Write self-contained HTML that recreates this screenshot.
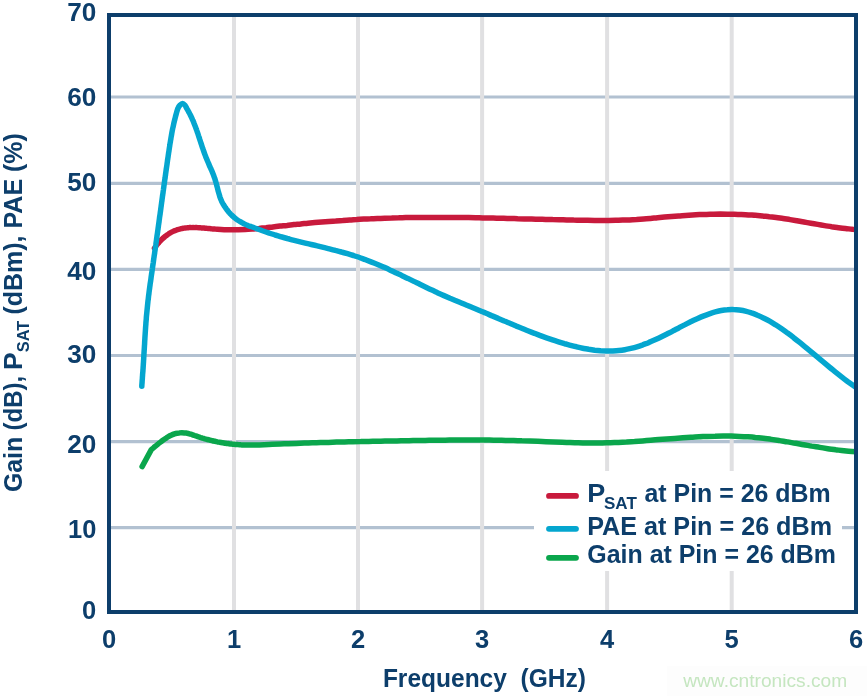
<!DOCTYPE html>
<html lang="en"><head><meta charset="utf-8"><title>Gain, PSAT, PAE vs Frequency</title>
<style>html,body{margin:0;padding:0;background:#fff}svg{display:block}</style></head>
<body>
<svg width="867" height="696" viewBox="0 0 867 696">
<rect width="867" height="696" fill="#fff"/>
<rect x="667" y="666" width="200" height="31" fill="#fdfdfd"/>
<line x1="109" x2="856" y1="97.0" y2="97.0" stroke="#b2c1d1" stroke-width="3.2"/>
<line x1="109" x2="856" y1="183.3" y2="183.3" stroke="#b2c1d1" stroke-width="3.2"/>
<line x1="109" x2="856" y1="269.4" y2="269.4" stroke="#b2c1d1" stroke-width="3.2"/>
<line x1="109" x2="856" y1="355.5" y2="355.5" stroke="#b2c1d1" stroke-width="3.2"/>
<line x1="109" x2="856" y1="441.6" y2="441.6" stroke="#b2c1d1" stroke-width="3.2"/>
<line x1="109" x2="856" y1="527.7" y2="527.7" stroke="#b2c1d1" stroke-width="3.2"/>
<line x1="234.0" x2="234.0" y1="15" y2="612" stroke="#e0e0e2" stroke-width="4"/>
<line x1="358.0" x2="358.0" y1="15" y2="612" stroke="#e0e0e2" stroke-width="4"/>
<line x1="482.1" x2="482.1" y1="15" y2="612" stroke="#e0e0e2" stroke-width="4"/>
<line x1="607.1" x2="607.1" y1="15" y2="612" stroke="#e0e0e2" stroke-width="4"/>
<line x1="731.7" x2="731.7" y1="15" y2="612" stroke="#e0e0e2" stroke-width="4"/>
<rect x="534" y="471" width="308" height="100" fill="#fff"/>
<clipPath id="c"><rect x="109" y="15" width="747" height="597"/></clipPath>
<g fill="none" stroke-width="5.5" stroke-linejoin="round" clip-path="url(#c)">
<path d="M154.5 248.2C154.7 248.0 155.3 247.1 155.7 246.5C156.1 246.0 156.5 245.4 156.9 244.9C157.3 244.4 157.8 243.8 158.2 243.3C158.6 242.8 159.1 242.3 159.5 241.8C160.0 241.3 160.5 240.8 160.9 240.3C161.4 239.8 161.9 239.3 162.4 238.8C162.9 238.4 163.4 237.9 163.9 237.5C164.4 237.1 164.9 236.6 165.4 236.2C166.0 235.8 166.5 235.4 167.0 235.0C167.6 234.6 168.1 234.2 168.7 233.9C169.2 233.5 169.8 233.2 170.4 232.8C170.9 232.5 171.5 232.2 172.1 231.9C172.7 231.6 173.3 231.3 173.9 231.0C174.5 230.8 175.1 230.5 175.7 230.3C176.3 230.1 176.9 229.8 177.5 229.6C178.1 229.4 178.7 229.3 179.4 229.1C180.0 228.9 180.6 228.8 181.3 228.6C181.9 228.5 182.6 228.4 183.2 228.3C183.9 228.2 184.5 228.1 185.2 228.0C185.8 227.9 186.5 227.8 187.1 227.8C187.8 227.7 188.5 227.7 189.1 227.6C189.8 227.6 190.4 227.6 191.1 227.6C191.8 227.5 192.5 227.5 193.1 227.5C193.8 227.5 194.5 227.5 195.1 227.6C195.8 227.6 196.5 227.6 197.1 227.6C197.8 227.7 198.5 227.7 199.1 227.7C199.8 227.8 200.5 227.8 201.1 227.9C201.8 227.9 202.5 228.0 203.2 228.0C203.8 228.1 204.5 228.1 205.2 228.2C205.8 228.3 206.5 228.3 207.2 228.4C207.8 228.5 208.5 228.5 209.2 228.6C209.8 228.6 210.5 228.7 211.2 228.8C211.8 228.8 212.5 228.9 213.2 229.0C213.9 229.0 214.5 229.1 215.2 229.1C215.9 229.2 215.7 229.2 217.2 229.3C218.7 229.4 221.9 229.6 224.2 229.7C226.5 229.8 228.9 229.8 231.2 229.8C233.5 229.8 235.9 229.8 238.2 229.7C240.5 229.6 242.8 229.5 245.2 229.4C247.5 229.3 249.8 229.1 252.1 228.9C254.5 228.8 256.8 228.6 259.1 228.4C261.4 228.1 263.7 227.9 266.1 227.7C268.4 227.4 270.7 227.2 273.0 226.9C275.3 226.7 277.7 226.4 280.0 226.1C282.3 225.9 284.6 225.6 287.0 225.4C289.3 225.1 291.6 224.9 293.9 224.6C296.2 224.4 298.6 224.1 300.9 223.9C303.2 223.7 305.5 223.4 307.9 223.2C310.2 223.0 312.5 222.8 314.8 222.6C317.2 222.4 319.5 222.2 321.8 222.0C324.1 221.8 326.5 221.6 328.8 221.4C331.1 221.2 333.4 221.0 335.8 220.9C338.1 220.7 340.4 220.5 342.8 220.4C345.1 220.2 347.4 220.0 349.7 219.9C352.1 219.8 354.4 219.6 356.7 219.5C359.1 219.3 361.4 219.2 363.7 219.1C366.0 219.0 368.4 218.9 370.7 218.8C373.0 218.6 375.4 218.5 377.7 218.4C380.0 218.4 382.4 218.3 384.7 218.2C387.0 218.1 389.4 218.0 391.7 218.0C394.0 217.9 396.3 217.8 398.7 217.8C401.0 217.7 403.3 217.7 405.7 217.6C408.0 217.6 410.3 217.5 412.7 217.5C415.0 217.5 417.3 217.4 419.7 217.4C422.0 217.4 424.3 217.4 426.7 217.4C429.0 217.4 431.3 217.4 433.7 217.4C436.0 217.4 438.3 217.4 440.7 217.4C443.0 217.4 445.3 217.4 447.7 217.4C450.0 217.4 452.3 217.4 454.7 217.4C457.0 217.5 459.3 217.5 461.7 217.5C464.0 217.6 466.3 217.6 468.7 217.6C471.0 217.7 473.3 217.7 475.7 217.7C478.0 217.8 480.3 217.8 482.7 217.9C485.0 217.9 487.3 218.0 489.7 218.0C492.0 218.1 494.3 218.1 496.7 218.2C499.0 218.2 501.3 218.3 503.7 218.3C506.0 218.4 508.3 218.4 510.7 218.5C513.0 218.6 515.3 218.6 517.7 218.7C520.0 218.7 522.3 218.8 524.7 218.9C527.0 218.9 529.3 219.0 531.7 219.0C534.0 219.1 536.3 219.2 538.7 219.2C541.0 219.3 543.3 219.3 545.7 219.4C548.0 219.5 550.3 219.5 552.7 219.6C555.0 219.6 557.3 219.7 559.7 219.8C562.0 219.8 564.3 219.9 566.7 219.9C569.0 220.0 571.3 220.0 573.7 220.1C576.0 220.1 578.3 220.2 580.7 220.2C583.0 220.3 585.3 220.3 587.7 220.3C590.0 220.4 592.3 220.4 594.7 220.4C597.0 220.4 599.3 220.5 601.7 220.5C604.0 220.5 606.3 220.5 608.7 220.4C611.0 220.4 613.3 220.4 615.6 220.3C618.0 220.3 620.3 220.2 622.6 220.1C625.0 220.1 627.3 220.0 629.6 219.9C632.0 219.7 634.3 219.6 636.6 219.5C638.9 219.3 641.3 219.1 643.6 218.9C645.9 218.8 648.2 218.6 650.6 218.4C652.9 218.2 655.2 217.9 657.5 217.7C659.9 217.5 662.2 217.3 664.5 217.1C666.8 216.9 669.2 216.7 671.5 216.5C673.8 216.3 676.2 216.1 678.5 215.9C680.8 215.7 683.1 215.6 685.5 215.4C687.8 215.3 690.1 215.1 692.5 215.0C694.8 214.9 697.1 214.7 699.5 214.6C701.8 214.5 704.1 214.5 706.5 214.4C708.8 214.3 711.1 214.3 713.5 214.2C715.8 214.2 718.1 214.2 720.5 214.1C722.8 214.1 725.1 214.1 727.5 214.2C729.8 214.2 732.1 214.2 734.4 214.3C736.8 214.4 739.1 214.4 741.4 214.5C743.8 214.6 746.1 214.7 748.4 214.9C750.7 215.0 753.1 215.2 755.4 215.3C757.7 215.5 760.0 215.7 762.3 215.9C764.7 216.2 767.0 216.4 769.3 216.7C771.6 216.9 773.9 217.2 776.2 217.5C778.6 217.8 780.9 218.2 783.2 218.5C785.5 218.9 787.8 219.2 790.1 219.6C792.4 220.0 794.7 220.4 797.0 220.8C799.3 221.2 801.6 221.6 803.9 222.0C806.2 222.4 808.5 222.8 810.8 223.2C813.1 223.6 815.4 224.0 817.7 224.4C820.0 224.8 822.3 225.2 824.6 225.6C827.0 226.0 829.3 226.3 831.6 226.7C833.9 227.0 836.2 227.4 838.5 227.7C840.8 228.0 843.1 228.3 845.4 228.5C847.8 228.8 850.1 229.0 852.4 229.3C854.7 229.5 858.1 229.7 859.4 229.8C860.6 229.9 859.9 229.8 860.0 229.8" stroke="#c81a3c" stroke-linecap="round"/>
<path d="M142.1 466.6L151.3 449.6C151.7 449.2 153.0 448.2 153.8 447.5C154.7 446.8 155.5 446.1 156.4 445.4C157.2 444.7 158.1 444.0 158.9 443.3C159.8 442.7 160.6 442.0 161.5 441.4C162.3 440.7 163.2 440.1 164.0 439.5C164.9 438.9 165.7 438.3 166.6 437.8C167.4 437.2 168.3 436.7 169.1 436.2C170.0 435.8 170.8 435.3 171.7 434.9C172.5 434.6 173.4 434.2 174.2 434.0C175.1 433.7 175.9 433.4 176.8 433.3C177.6 433.1 178.5 432.9 179.3 432.9C180.2 432.8 181.0 432.7 181.9 432.7C182.7 432.7 183.6 432.8 184.4 432.9C185.3 432.9 186.1 433.1 187.0 433.2C187.8 433.4 188.7 433.6 189.5 433.8C190.4 434.1 191.2 434.3 192.1 434.6C192.9 434.9 193.8 435.2 194.6 435.5C195.5 435.8 196.3 436.1 197.2 436.4C198.0 436.7 198.8 436.9 199.7 437.2C200.5 437.5 201.4 437.8 202.2 438.0C203.1 438.3 203.9 438.5 204.8 438.8C205.6 439.0 206.5 439.3 207.3 439.5C208.2 439.7 209.0 439.9 209.9 440.1C210.7 440.4 211.6 440.6 212.4 440.8C213.3 441.0 214.1 441.1 215.0 441.3C215.8 441.5 216.7 441.7 217.5 441.9C218.4 442.0 219.2 442.2 220.1 442.3C220.9 442.5 221.8 442.6 222.6 442.8C223.5 442.9 224.3 443.1 225.2 443.2C226.0 443.3 226.9 443.4 227.7 443.6C228.6 443.7 229.4 443.8 230.3 443.9C231.1 444.0 232.0 444.1 232.8 444.2C233.7 444.3 234.5 444.3 235.4 444.4C236.2 444.5 237.1 444.6 237.9 444.6C238.8 444.7 239.6 444.8 240.5 444.8C241.3 444.9 241.7 445.0 243.0 445.0C244.3 445.0 245.8 445.0 248.0 445.0C250.2 444.9 253.4 445.0 256.1 444.9C258.7 444.9 261.4 444.8 264.1 444.7C266.8 444.6 269.5 444.5 272.2 444.3C274.8 444.2 277.5 444.1 280.2 444.0C282.9 443.9 285.6 443.8 288.3 443.7C290.9 443.6 293.6 443.5 296.3 443.4C299.0 443.3 301.7 443.2 304.4 443.1C307.1 443.0 309.7 442.9 312.4 442.8C315.1 442.7 317.8 442.7 320.5 442.6C323.2 442.5 325.8 442.4 328.5 442.4C331.2 442.3 333.9 442.2 336.6 442.1C339.3 442.1 341.9 442.0 344.6 441.9C347.3 441.9 350.0 441.8 352.7 441.8C355.4 441.7 358.1 441.6 360.7 441.6C363.4 441.5 366.1 441.5 368.8 441.4C371.5 441.4 374.2 441.3 376.8 441.3C379.5 441.2 382.2 441.2 384.9 441.1C387.6 441.1 390.3 441.0 392.9 441.0C395.6 440.9 398.3 440.9 401.0 440.8C403.7 440.8 406.4 440.7 409.1 440.7C411.7 440.6 414.4 440.6 417.1 440.5C419.8 440.5 422.5 440.4 425.2 440.4C427.8 440.4 430.5 440.3 433.2 440.3C435.9 440.3 438.6 440.2 441.3 440.2C443.9 440.2 446.6 440.1 449.3 440.1C452.0 440.1 454.7 440.1 457.4 440.1C460.1 440.1 462.7 440.0 465.4 440.0C468.1 440.0 470.8 440.0 473.5 440.0C476.2 440.0 478.8 440.0 481.5 440.1C484.2 440.1 486.9 440.1 489.6 440.1C492.3 440.1 494.9 440.2 497.6 440.2C500.3 440.3 503.0 440.3 505.7 440.4C508.4 440.4 511.1 440.5 513.7 440.5C516.4 440.6 519.1 440.7 521.8 440.8C524.5 440.8 527.2 440.9 529.8 441.0C532.5 441.1 535.2 441.2 537.9 441.3C540.6 441.4 543.3 441.6 545.9 441.7C548.6 441.8 551.3 441.9 554.0 442.0C556.7 442.1 559.4 442.2 562.1 442.3C564.7 442.4 567.4 442.5 570.1 442.5C572.8 442.6 575.5 442.7 578.2 442.7C580.8 442.8 583.5 442.9 586.2 442.9C588.9 442.9 591.6 442.9 594.3 442.9C596.9 442.9 599.6 442.9 602.3 442.9C605.0 442.8 607.7 442.8 610.4 442.7C613.1 442.6 615.7 442.5 618.4 442.4C621.1 442.3 623.8 442.1 626.5 442.0C629.2 441.8 631.8 441.6 634.5 441.5C637.2 441.3 639.9 441.1 642.6 440.9C645.3 440.7 647.9 440.5 650.6 440.3C653.3 440.1 656.0 439.9 658.7 439.6C661.4 439.4 664.1 439.2 666.7 439.0C669.4 438.8 672.1 438.6 674.8 438.4C677.5 438.2 680.2 438.0 682.8 437.8C685.5 437.6 688.2 437.4 690.9 437.2C693.6 437.1 696.3 436.9 698.9 436.8C701.6 436.7 704.3 436.5 707.0 436.4C709.7 436.3 712.4 436.2 715.1 436.2C717.7 436.1 720.4 436.1 723.1 436.1C725.8 436.1 728.5 436.1 731.2 436.1C733.8 436.2 736.5 436.3 739.2 436.4C741.9 436.5 744.6 436.6 747.3 436.8C749.9 437.0 752.6 437.2 755.3 437.5C758.0 437.7 760.7 438.0 763.4 438.3C766.1 438.7 768.7 439.0 771.4 439.4C774.1 439.8 776.8 440.2 779.5 440.6C782.2 441.0 784.8 441.5 787.5 441.9C790.2 442.4 792.9 442.8 795.6 443.3C798.3 443.8 800.9 444.2 803.6 444.7C806.3 445.2 809.0 445.6 811.7 446.1C814.4 446.5 817.1 447.0 819.7 447.4C822.4 447.9 825.1 448.3 827.8 448.7C830.5 449.1 833.2 449.4 835.8 449.8C838.5 450.1 841.2 450.5 843.9 450.7C846.6 451.0 849.3 451.3 851.9 451.5C854.6 451.7 858.7 451.9 860.0 452.0" stroke="#0aa64c" stroke-linecap="round"/>
<path d="M141.8 386.3C141.8 385.8 141.9 384.3 142.0 383.3C142.1 382.3 142.1 381.3 142.2 380.3C142.3 379.3 142.4 378.2 142.4 377.2C142.5 376.2 142.6 375.2 142.6 374.2C142.7 373.2 142.8 372.2 142.9 371.2C142.9 370.2 143.0 369.2 143.1 368.2C143.1 367.2 143.2 366.2 143.3 365.2C143.3 364.1 143.4 363.1 143.5 362.1C143.5 361.1 143.6 360.1 143.7 359.1C143.7 358.1 143.8 357.1 143.8 356.1C143.9 355.1 144.0 354.1 144.0 353.1C144.1 352.1 144.1 351.1 144.2 350.1C144.3 349.0 144.3 348.0 144.4 347.0C144.4 346.0 144.5 345.0 144.6 344.0C144.6 343.0 144.7 342.0 144.7 341.0C144.8 340.0 144.9 339.0 144.9 338.0C145.0 337.0 145.0 336.0 145.1 334.9C145.2 333.9 145.2 332.9 145.3 331.9C145.4 330.9 145.4 329.9 145.5 328.9C145.6 327.9 145.6 326.9 145.7 325.9C145.8 324.9 145.9 323.9 145.9 322.9C146.0 321.9 146.1 320.9 146.2 319.8C146.3 318.8 146.3 317.8 146.4 316.8C146.5 315.8 146.6 314.8 146.7 313.8C146.8 312.8 146.9 311.8 147.0 310.8C147.1 309.8 147.2 308.8 147.3 307.8C147.4 306.8 147.5 305.7 147.6 304.7C147.7 303.7 147.8 302.7 147.9 301.7C148.0 300.7 148.2 299.7 148.3 298.7C148.4 297.7 148.5 296.7 148.6 295.7C148.8 294.7 148.9 293.7 149.0 292.7C149.2 291.7 149.3 290.6 149.4 289.6C149.6 288.6 149.7 287.6 149.8 286.6C150.0 285.6 150.1 284.6 150.2 283.6C150.4 282.6 150.5 281.6 150.7 280.6C150.8 279.6 151.0 278.6 151.1 277.6C151.2 276.5 151.4 275.5 151.5 274.5C151.7 273.5 151.8 272.5 152.0 271.5C152.1 270.5 152.2 269.5 152.4 268.5C152.5 267.5 152.7 266.5 152.8 265.5C153.0 264.5 153.1 263.5 153.3 262.5C153.4 261.4 153.5 260.4 153.7 259.4C153.8 258.4 154.0 257.4 154.1 256.4C154.3 255.4 154.4 254.4 154.6 253.4C154.7 252.4 154.8 251.4 155.0 250.4C155.1 249.4 155.3 248.4 155.4 247.3C155.6 246.3 155.7 245.3 155.9 244.3C156.0 243.3 156.1 242.3 156.3 241.3C156.4 240.3 156.6 239.3 156.7 238.3C156.8 237.3 157.0 236.3 157.1 235.3C157.3 234.3 157.4 233.3 157.6 232.2C157.7 231.2 157.8 230.2 158.0 229.2C158.1 228.2 158.3 227.2 158.4 226.2C158.5 225.2 158.7 224.2 158.8 223.2C159.0 222.2 159.1 221.2 159.2 220.2C159.4 219.2 159.5 218.2 159.6 217.1C159.8 216.1 159.9 215.1 160.1 214.1C160.2 213.1 160.3 212.1 160.5 211.1C160.6 210.1 160.8 209.1 160.9 208.1C161.0 207.1 161.2 206.1 161.3 205.1C161.4 204.1 161.6 203.0 161.7 202.0C161.9 201.0 162.0 200.0 162.1 199.0C162.3 198.0 162.4 197.0 162.5 196.0C162.7 195.0 162.8 194.0 163.0 193.0C163.1 192.0 163.2 191.0 163.4 190.0C163.5 189.0 163.7 187.9 163.8 186.9C163.9 185.9 164.1 184.9 164.2 183.9C164.4 182.9 164.5 181.9 164.6 180.9C164.8 179.9 164.9 178.9 165.1 177.9C165.2 176.9 165.3 175.9 165.5 174.9C165.6 173.8 165.8 172.8 165.9 171.8C166.1 170.8 166.2 169.8 166.3 168.8C166.5 167.8 166.6 166.8 166.8 165.8C166.9 164.8 167.1 163.8 167.2 162.8C167.3 161.8 167.5 160.8 167.6 159.8C167.8 158.7 167.9 157.7 168.1 156.7C168.2 155.7 168.4 154.7 168.5 153.7C168.7 152.7 168.8 151.7 169.0 150.7C169.1 149.7 169.3 148.7 169.4 147.7C169.6 146.7 169.7 145.7 169.9 144.6C170.0 143.6 170.2 142.6 170.4 141.6C170.5 140.6 170.7 139.6 170.9 138.6C171.0 137.6 171.2 136.6 171.4 135.6C171.6 134.6 171.8 133.6 171.9 132.6C172.1 131.6 172.3 130.6 172.5 129.5C172.7 128.5 172.9 127.5 173.2 126.5C173.4 125.5 173.6 124.5 173.8 123.5C174.0 122.5 174.3 121.5 174.5 120.5C174.8 119.5 175.0 118.5 175.3 117.5C175.5 116.5 175.8 115.4 176.1 114.4C176.4 113.4 176.6 112.4 176.9 111.4C177.2 110.4 177.4 109.4 177.9 108.4C178.3 107.4 179.1 106.0 179.9 105.2C180.7 104.4 181.7 103.5 182.5 103.5C183.3 103.5 184.3 104.4 185.0 105.2C185.7 106.0 186.2 107.4 186.7 108.4C187.3 109.4 187.9 110.4 188.5 111.5C189.0 112.5 189.6 113.5 190.1 114.5C190.6 115.5 191.1 116.5 191.6 117.6C192.0 118.6 192.5 119.6 192.9 120.6C193.4 121.6 193.8 122.6 194.2 123.7C194.6 124.7 195.0 125.7 195.4 126.7C195.8 127.7 196.2 128.7 196.5 129.8C196.9 130.8 197.2 131.8 197.6 132.8C197.9 133.8 198.3 134.8 198.6 135.9C199.0 136.9 199.3 137.9 199.6 138.9C200.0 139.9 200.3 141.0 200.6 142.0C200.9 143.0 201.3 144.0 201.6 145.0C201.9 146.0 202.3 147.1 202.6 148.1C203.0 149.1 203.3 150.1 203.7 151.1C204.0 152.1 204.4 153.2 204.8 154.2C205.2 155.2 205.5 156.2 205.9 157.2C206.3 158.2 206.7 159.3 207.2 160.3C207.6 161.3 208.0 162.3 208.5 163.3C208.9 164.3 209.4 165.4 209.8 166.4C210.3 167.4 210.7 168.4 211.2 169.4C211.6 170.4 212.0 171.5 212.5 172.5C212.9 173.5 213.3 174.5 213.7 175.5C214.0 176.6 214.4 177.6 214.8 178.6C215.1 179.6 215.4 180.6 215.7 181.6C216.0 182.7 216.3 183.7 216.6 184.7C216.8 185.7 217.1 186.7 217.4 187.7C217.6 188.8 217.9 189.8 218.1 190.8C218.4 191.8 218.7 192.8 219.0 193.8C219.3 194.9 219.6 195.9 219.9 196.9C220.3 197.9 220.7 198.9 221.1 199.9C221.5 201.0 222.1 202.3 222.5 203.0C222.9 203.7 223.0 203.8 223.3 204.4C223.6 204.9 224.0 205.5 224.4 206.1C224.7 206.7 225.1 207.2 225.5 207.8C225.9 208.3 226.3 208.9 226.7 209.4C227.1 210.0 227.5 210.5 227.9 211.0C228.3 211.6 228.8 212.1 229.2 212.6C229.7 213.1 230.1 213.6 230.6 214.1C231.0 214.5 231.5 215.0 232.0 215.5C232.5 215.9 233.0 216.4 233.5 216.8C234.0 217.3 234.5 217.7 235.0 218.1C235.5 218.5 236.1 218.9 236.6 219.3C237.1 219.7 237.7 220.1 238.3 220.5C238.8 220.8 239.4 221.2 240.0 221.5C240.5 221.9 241.1 222.2 241.7 222.5C242.3 222.9 242.9 223.2 243.5 223.5C244.1 223.8 244.7 224.1 245.3 224.4C245.9 224.7 246.5 225.0 247.2 225.2C247.8 225.5 248.4 225.8 249.0 226.0C249.7 226.3 249.7 226.1 251.0 226.5C252.3 227.0 255.0 228.1 257.0 228.8C259.0 229.6 261.0 230.3 263.1 231.0C265.1 231.7 267.1 232.4 269.1 233.0C271.1 233.7 273.1 234.3 275.1 235.0C277.1 235.6 279.1 236.2 281.1 236.8C283.2 237.3 285.2 237.9 287.2 238.5C289.2 239.0 291.2 239.6 293.2 240.1C295.2 240.6 297.2 241.1 299.2 241.6C301.2 242.1 303.3 242.6 305.3 243.1C307.3 243.6 309.3 244.1 311.3 244.5C313.3 245.0 315.3 245.5 317.3 245.9C319.3 246.4 321.3 246.9 323.4 247.4C325.4 247.9 327.4 248.3 329.4 248.8C331.4 249.3 333.4 249.8 335.4 250.4C337.4 250.9 339.4 251.4 341.4 252.0C343.5 252.5 345.5 253.1 347.5 253.7C349.5 254.3 351.5 254.9 353.5 255.5C355.5 256.2 357.5 256.8 359.5 257.5C361.5 258.2 363.6 259.0 365.6 259.7C367.6 260.5 369.6 261.3 371.6 262.1C373.6 262.9 375.6 263.7 377.6 264.5C379.6 265.4 381.6 266.3 383.7 267.1C385.7 268.0 387.7 268.9 389.7 269.9C391.7 270.8 393.7 271.7 395.7 272.7C397.7 273.6 399.7 274.6 401.7 275.5C403.8 276.5 405.8 277.5 407.8 278.4C409.8 279.4 411.8 280.4 413.8 281.4C415.8 282.4 417.8 283.3 419.8 284.3C421.8 285.3 423.9 286.3 425.9 287.2C427.9 288.2 429.9 289.2 431.9 290.1C433.9 291.0 435.9 292.0 437.9 292.9C439.9 293.8 441.9 294.7 444.0 295.6C446.0 296.5 448.0 297.4 450.0 298.3C452.0 299.1 454.0 300.0 456.0 300.8C458.0 301.7 460.0 302.5 462.0 303.3C464.0 304.2 466.1 305.0 468.1 305.8C470.1 306.7 472.1 307.5 474.1 308.3C476.1 309.1 478.1 310.0 480.1 310.8C482.1 311.6 484.1 312.5 486.2 313.3C488.2 314.2 490.2 315.0 492.2 315.9C494.2 316.7 496.2 317.6 498.2 318.4C500.2 319.3 502.2 320.1 504.2 321.0C506.3 321.8 508.3 322.7 510.3 323.5C512.3 324.4 514.3 325.2 516.3 326.1C518.3 326.9 520.3 327.7 522.3 328.5C524.3 329.4 526.4 330.2 528.4 331.0C530.4 331.8 532.4 332.6 534.4 333.3C536.4 334.1 538.4 334.9 540.4 335.6C542.4 336.4 544.4 337.1 546.5 337.8C548.5 338.5 550.5 339.2 552.5 339.9C554.5 340.6 556.5 341.2 558.5 341.8C560.5 342.5 562.5 343.1 564.5 343.7C566.6 344.2 568.6 344.8 570.6 345.3C572.6 345.9 574.6 346.4 576.6 346.8C578.6 347.3 580.6 347.8 582.6 348.2C584.6 348.6 586.7 348.9 588.7 349.3C590.7 349.6 592.7 349.9 594.7 350.2C596.7 350.4 598.7 350.6 600.7 350.8C602.7 350.9 604.7 351.0 606.8 351.1C608.8 351.1 610.8 351.1 612.8 351.0C614.8 350.9 616.8 350.8 618.8 350.6C620.8 350.4 622.8 350.1 624.8 349.7C626.9 349.4 628.9 348.9 630.9 348.4C632.9 347.9 634.9 347.4 636.9 346.8C638.9 346.2 640.9 345.5 642.9 344.8C644.9 344.0 647.0 343.3 649.0 342.4C651.0 341.6 653.0 340.7 655.0 339.8C657.0 338.9 659.0 338.0 661.0 337.0C663.0 336.0 665.0 335.0 667.0 334.0C669.1 332.9 671.1 331.9 673.1 330.8C675.1 329.8 677.1 328.7 679.1 327.7C681.1 326.6 683.1 325.6 685.1 324.6C687.1 323.5 689.2 322.5 691.2 321.5C693.2 320.5 695.2 319.6 697.2 318.7C699.2 317.8 701.2 316.9 703.2 316.1C705.2 315.3 707.2 314.5 709.3 313.8C711.3 313.1 713.3 312.4 715.3 311.9C717.3 311.4 719.3 310.9 721.3 310.5C723.3 310.1 725.3 309.8 727.3 309.7C729.4 309.5 731.4 309.4 733.4 309.5C735.4 309.5 737.4 309.7 739.4 310.0C741.4 310.3 743.4 310.6 745.4 311.1C747.4 311.6 749.5 312.2 751.5 312.9C753.5 313.5 755.5 314.3 757.5 315.2C759.5 316.0 761.5 316.9 763.5 318.0C765.5 319.0 767.5 320.0 769.6 321.2C771.6 322.3 773.6 323.6 775.6 324.8C777.6 326.1 779.6 327.4 781.6 328.8C783.6 330.2 785.6 331.6 787.6 333.1C789.7 334.6 791.7 336.1 793.7 337.7C795.7 339.2 797.7 340.8 799.7 342.4C801.7 344.0 803.7 345.7 805.7 347.3C807.7 349.0 809.8 350.6 811.8 352.3C813.8 354.0 815.8 355.7 817.8 357.4C819.8 359.1 821.8 360.8 823.8 362.4C825.8 364.1 827.8 365.8 829.9 367.5C831.9 369.1 833.9 370.8 835.9 372.4C837.9 374.0 839.9 375.6 841.9 377.2C843.9 378.8 845.9 380.3 847.9 381.8C850.0 383.3 852.0 384.7 854.0 386.1C856.0 387.5 859.0 389.5 860.0 390.2" stroke="#04a6cf" stroke-linecap="round"/>
</g>
<rect x="109" y="15" width="747" height="597" fill="none" stroke="#0d3e6b" stroke-width="4"/>
<line x1="549" x2="576" y1="495.9" y2="495.9" stroke="#c81a3c" stroke-width="5.8" stroke-linecap="round"/>
<line x1="549" x2="576" y1="528.8" y2="528.8" stroke="#04a6cf" stroke-width="5.8" stroke-linecap="round"/>
<line x1="549" x2="576" y1="557.85" y2="557.85" stroke="#0aa64c" stroke-width="5.8" stroke-linecap="round"/>
<g font-family="'Liberation Sans', Arial, Helvetica, sans-serif" font-weight="bold" fill="#0d3e6b" font-size="25.0">
<text x="96.3" y="21.2" font-size="25.0" text-anchor="end" textLength="29.1" lengthAdjust="spacingAndGlyphs">70</text>
<text x="96.3" y="105.8" font-size="25.0" text-anchor="end" textLength="29.1" lengthAdjust="spacingAndGlyphs">60</text>
<text x="96.3" y="191.1" font-size="25.0" text-anchor="end" textLength="29.1" lengthAdjust="spacingAndGlyphs">50</text>
<text x="96.3" y="280.0" font-size="25.0" text-anchor="end" textLength="29.1" lengthAdjust="spacingAndGlyphs">40</text>
<text x="96.3" y="363.4" font-size="25.0" text-anchor="end" textLength="29.1" lengthAdjust="spacingAndGlyphs">30</text>
<text x="96.3" y="452.9" font-size="25.0" text-anchor="end" textLength="29.1" lengthAdjust="spacingAndGlyphs">20</text>
<text x="96.3" y="537.6" font-size="25.0" text-anchor="end" textLength="28.3" lengthAdjust="spacingAndGlyphs">10</text>
<text x="96.3" y="619.1" font-size="25.0" text-anchor="end" textLength="14.2" lengthAdjust="spacingAndGlyphs">0</text>
<text x="109.1" y="648.4" font-size="25.0" text-anchor="middle" textLength="14.2" lengthAdjust="spacingAndGlyphs">0</text>
<text x="234.0" y="648.4" font-size="25.0" text-anchor="middle" textLength="14.2" lengthAdjust="spacingAndGlyphs">1</text>
<text x="358.0" y="648.4" font-size="25.0" text-anchor="middle" textLength="14.2" lengthAdjust="spacingAndGlyphs">2</text>
<text x="482.1" y="648.4" font-size="25.0" text-anchor="middle" textLength="14.2" lengthAdjust="spacingAndGlyphs">3</text>
<text x="607.1" y="648.4" font-size="25.0" text-anchor="middle" textLength="14.2" lengthAdjust="spacingAndGlyphs">4</text>
<text x="731.7" y="648.4" font-size="25.0" text-anchor="middle" textLength="14.2" lengthAdjust="spacingAndGlyphs">5</text>
<text x="856" y="648.4" font-size="25.0" text-anchor="middle" textLength="14.2" lengthAdjust="spacingAndGlyphs">6</text>
<text x="382.9" y="687" textLength="203" lengthAdjust="spacingAndGlyphs" xml:space="preserve" style="white-space:pre">Frequency  (GHz)</text>
<text x="587.2" y="501.8" textLength="18.0" lengthAdjust="spacingAndGlyphs">P</text>
<text x="604.0" y="509" font-size="17.3" textLength="32.8" lengthAdjust="spacingAndGlyphs">SAT</text>
<text x="644.5" y="501.8" textLength="186.2" lengthAdjust="spacingAndGlyphs">at Pin = 26 dBm</text>
<text x="587.2" y="534.7" textLength="244.8" lengthAdjust="spacingAndGlyphs">PAE at Pin = 26 dBm</text>
<text x="587.3" y="563.1" textLength="248.7" lengthAdjust="spacingAndGlyphs">Gain at Pin = 26 dBm</text>
<g transform="translate(21.9 492.1) rotate(-90)">
<text x="0" y="0" textLength="55.3" lengthAdjust="spacingAndGlyphs">Gain</text>
<text x="61.6" y="0" textLength="54.7" lengthAdjust="spacingAndGlyphs">(dB),</text>
<text x="122.2" y="0" textLength="17.6" lengthAdjust="spacingAndGlyphs">P</text>
<text x="139.9" y="7.3" font-size="17.3" textLength="31.6" lengthAdjust="spacingAndGlyphs">SAT</text>
<text x="177.5" y="0" textLength="181.5" lengthAdjust="spacingAndGlyphs">(dBm), PAE (%)</text>
</g>
</g>
<text x="683.2" y="687.3" font-family="'Liberation Sans', Arial, sans-serif" font-size="19" fill="#c5e6c0" textLength="164" lengthAdjust="spacingAndGlyphs">www.cntronics.com</text>
</svg>
</body></html>
